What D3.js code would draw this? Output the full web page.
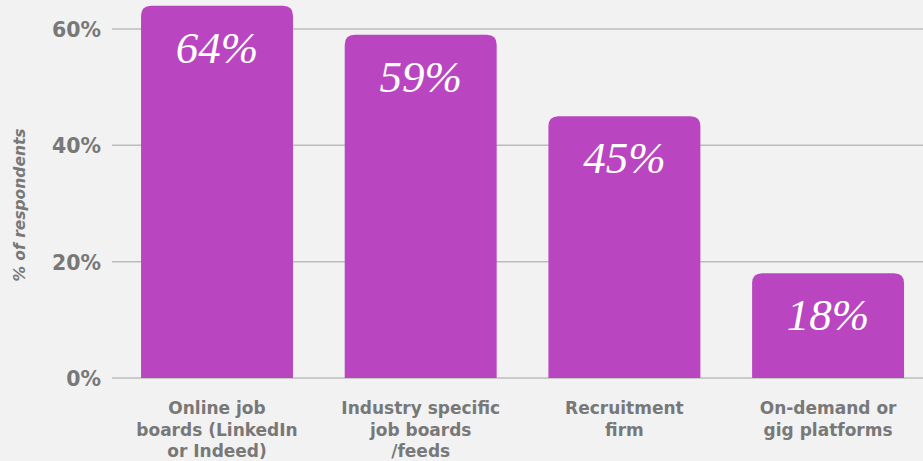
<!DOCTYPE html>
<html>
<head>
<meta charset="utf-8">
<script src="https://cdn.jsdelivr.net/npm/d3@7"></script>
<style>
  html, body { margin: 0; padding: 0; background: #f2f2f2; }
  svg { display: block; }
</style>
</head>
<body>
<svg id="chart" width="923" height="461"></svg>
<script>
// Survey: channels used to find work
const categories = [
  ["Online job", "boards (LinkedIn", "or Indeed)"],
  ["Industry specific", "job boards", "/feeds"],
  ["Recruitment", "firm"],
  ["On-demand or", "gig platforms"]
];
const values = [64, 59, 45, 18];
const yTicks = [0, 20, 40, 60];
const yTitle = "% of respondents";

const W = 923, H = 461;
const svg = d3.select("#chart");
svg.append("rect").attr("width", W).attr("height", H).attr("fill", "#f2f2f2");

const sans = "'DejaVu Sans', Verdana, sans-serif";
const gray = "#787878";

const plotLeft = 112, plotRight = 923;
const x = d3.scaleBand()
  .domain(d3.range(categories.length))
  .range([100.3, 944.8])
  .paddingInner(0.254)
  .paddingOuter(0.2);
const y = d3.scaleLinear().domain([0, 60]).range([378, 29]);

// gridlines
svg.append("g")
  .selectAll("line")
  .data(yTicks)
  .join("line")
  .attr("x1", plotLeft).attr("x2", plotRight)
  .attr("y1", d => y(d)).attr("y2", d => y(d))
  .attr("stroke", "#bcbcbc").attr("stroke-width", 1.5);

// y tick labels
const yAxis = d3.axisLeft(y).tickValues(yTicks).tickFormat(d => d + "%").tickSize(0).tickPadding(0);
const ga = svg.append("g").attr("transform", "translate(101,0)").call(yAxis);
ga.select(".domain").remove();
ga.selectAll("text")
  .attr("fill", gray)
  .attr("font-family", sans)
  .attr("font-weight", "bold")
  .attr("font-size", 20.5)
  .attr("dy", "0.36em");

// y title
svg.append("text")
  .attr("transform", `translate(25,205) rotate(-90)`)
  .attr("text-anchor", "middle")
  .attr("fill", gray)
  .attr("font-family", sans)
  .attr("font-weight", "bold")
  .attr("font-style", "italic")
  .attr("font-size", 15.5)
  .text(yTitle);

// bars with rounded top corners
const r = 10;
function barPath(i, v) {
  const x0 = x(i), x1 = x(i) + x.bandwidth(), yt = y(v), yb = y(0);
  return `M${x0},${yb}V${yt + r}Q${x0},${yt} ${x0 + r},${yt}H${x1 - r}Q${x1},${yt} ${x1},${yt + r}V${yb}Z`;
}
svg.append("g")
  .selectAll("path")
  .data(values)
  .join("path")
  .attr("d", (v, i) => barPath(i, v))
  .attr("fill", "#b946c0");

// value labels
svg.append("g")
  .selectAll("text")
  .data(values)
  .join("text")
  .attr("x", (v, i) => x(i) + x.bandwidth() / 2)
  .attr("y", v => y(v) + 57)
  .attr("text-anchor", "middle")
  .attr("fill", "#ffffff")
  .attr("font-family", "'Liberation Serif', 'DejaVu Serif', serif")
  .attr("font-style", "italic")
  .attr("font-size", 45)
  .text(v => v + "%");

// category labels
const cg = svg.append("g")
  .selectAll("text")
  .data(categories)
  .join("text")
  .attr("text-anchor", "middle")
  .attr("fill", gray)
  .attr("font-family", sans)
  .attr("font-weight", "bold")
  .attr("font-size", 17);
cg.selectAll("tspan")
  .data((d, i) => d.map(s => ({ s, i })))
  .join("tspan")
  .attr("x", d => x(d.i) + x.bandwidth() / 2)
  .attr("y", (d, j) => 414 + j * 21.5)
  .text(d => d.s);
</script>
</body>
</html>
